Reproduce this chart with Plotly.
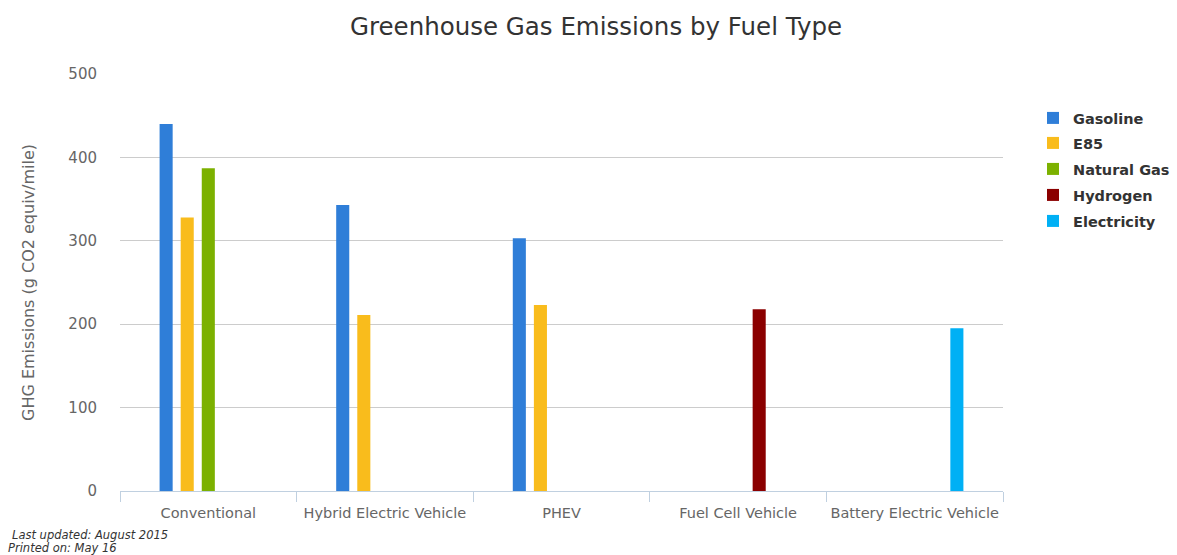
import plotly.graph_objects as go

categories = ["Conventional", "Hybrid Electric Vehicle", "PHEV", "Fuel Cell Vehicle", "Battery Electric Vehicle"]
gasoline = [440, 343, 303, None, None]
e85 = [328, 211, 223, None, None]
natural_gas = [387, None, None, None, None]
hydrogen = [None, None, None, 218, None]
electricity = [None, None, None, None, 195]

series = [
    ("Gasoline", gasoline, "#2f7ed8"),
    ("E85", e85, "#f9bc1c"),
    ("Natural Gas", natural_gas, "#7cb100"),
    ("Hydrogen", hydrogen, "#8b0000"),
    ("Electricity", electricity, "#00b0f5"),
]

FONT = "DejaVu Sans"
W, H = 1177, 555
L, R, T, B = 120, 174, 74, 64
ph = H - T - B
pw = W - L - R

fig = go.Figure()
legend_layout = {}
legend_centers = [118, 143, 169, 195, 221]
for i, (name, vals, color) in enumerate(series):
    lname = "legend" if i == 0 else f"legend{i+1}"
    fig.add_trace(go.Bar(name=name, x=categories, y=vals, legend=lname,
                         marker=dict(color=color, line=dict(width=0))))
    legend_layout[lname] = dict(
        x=(1033 - L) / pw, y=(H - B - legend_centers[i]) / ph,
        xanchor="left", yanchor="middle", bgcolor="rgba(0,0,0,0)",
        font=dict(family=FONT, size=14.5, color="#333333", weight="bold"),
        itemsizing="constant", borderwidth=0,
    )

fig.update_layout(
    width=W, height=H,
    margin=dict(l=L, r=R, t=T, b=B, autoexpand=False),
    paper_bgcolor="white", plot_bgcolor="white",
    font=dict(family=FONT, color="#666666"),
    title=dict(text="Greenhouse Gas Emissions by Fuel Type", x=596 / W, xref="container", xanchor="center",
               y=1 - 26 / H, yref="container", yanchor="middle", automargin=False,
               font=dict(family=FONT, size=24.5, color="#333333")),
    barmode="group", bargap=0.403, bargroupgap=0.38,
    showlegend=True,
    **legend_layout,
)
fig.update_xaxes(showline=True, linecolor="#c0d0e0", linewidth=1, ticks="outside", tickson="boundaries",
                 ticklen=10, tickcolor="#c0d0e0", showgrid=False, automargin=False, tickangle=0,
                 ticklabelstandoff=9,
                 tickfont=dict(family=FONT, size=14.5, color="#666666"))
fig.update_yaxes(range=[0, 500], dtick=100, showgrid=True, gridcolor="#cccccc", gridwidth=1,
                 zeroline=False, showline=False, ticks="", ticklabelstandoff=22, automargin=False,
                 tickfont=dict(family=FONT, size=15, color="#666666"),
                 title=dict(text="GHG Emissions (g CO2 equiv/mile)", standoff=29,
                            font=dict(family=FONT, size=16, color="#666666")))

fig.add_annotation(text="<i>Last updated: August 2015</i>", xref="paper", yref="paper",
                   x=(10 - L) / pw, y=(H - B - 535) / ph,
                   xanchor="left", yanchor="middle", showarrow=False,
                   font=dict(family=FONT, size=11.5, color="#333333"))
fig.add_annotation(text="<i>Printed on: May 16</i>", xref="paper", yref="paper",
                   x=(6 - L) / pw, y=(H - B - 548) / ph,
                   xanchor="left", yanchor="middle", showarrow=False,
                   font=dict(family=FONT, size=11.5, color="#333333"))

fig.write_html("out.html", config={"displayModeBar": False},
               post_script="document.body.style.margin='0';document.body.style.overflow='hidden';")
